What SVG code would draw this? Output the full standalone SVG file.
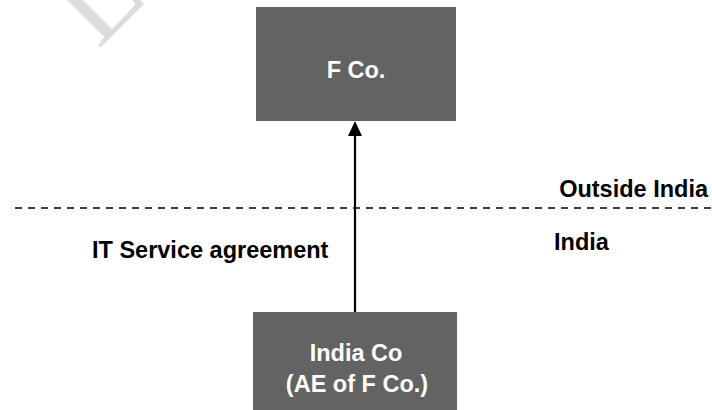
<svg xmlns="http://www.w3.org/2000/svg" width="712" height="410" viewBox="0 0 712 410">
  <defs>
    <style>
      .box { fill: #636363; }
      .boxtext { fill: #ffffff; font-family: "Liberation Sans", Arial, sans-serif; font-weight: bold; font-size: 23.5px; text-anchor: middle; }
      .label { fill: #000000; font-family: "Liberation Sans", Arial, sans-serif; font-weight: bold; font-size: 23.5px; }
      .border { stroke: #000000; stroke-width: 1.5; stroke-dasharray: 7 6; fill: none; }
      .flow { stroke: #000000; stroke-width: 2.2; fill: none; }
      .mark { fill: #dcdcdc; font-family: "Liberation Serif", "Times New Roman", serif; font-size: 120px; }
    </style>
  </defs>

  <!-- faint watermark letter -->
  <text class="mark" transform="translate(98,50) rotate(-45)" x="0" y="0">L</text>

  <!-- boundary between jurisdictions -->
  <line class="border" x1="15" y1="208" x2="712" y2="208"/>
  <text class="label" x="708" y="197" text-anchor="end">Outside India</text>
  <text class="label" x="554" y="250">India</text>

  <!-- connectors -->
  <g id="connectors">
    <line class="flow" x1="355" y1="312" x2="355" y2="134"/>
    <path d="M348,136 L355,121 L362,136 Z" fill="#000000"/>
    <text class="label" x="92" y="258">IT Service agreement</text>
  </g>

  <g id="fco">
    <rect class="box" x="256" y="7" width="200" height="114"/>
    <text class="boxtext" x="356" y="78">F Co.</text>
  </g>

  <g id="indiaco">
    <rect class="box" x="253" y="312" width="204" height="98"/>
    <text class="boxtext" x="356" y="361">India Co</text>
    <text class="boxtext" x="357" y="392">(AE of F Co.)</text>
  </g>
</svg>
